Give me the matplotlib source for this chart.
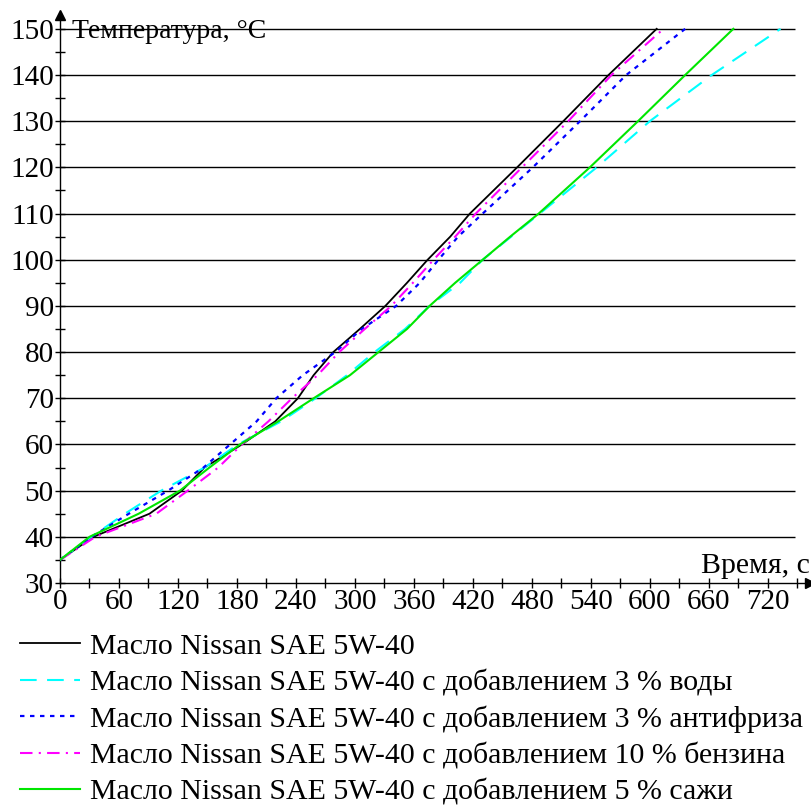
import matplotlib
matplotlib.use("Agg")
import matplotlib.pyplot as plt
from matplotlib.ticker import MultipleLocator


# Температура, при которой снят отсчёт времени, °C
temps = [35, 40, 45, 50, 55, 60, 65, 70, 75, 80, 85, 90, 95, 100, 105, 110, 120, 130, 140, 150]

# Время нагрева до каждой температуры, с
t_base = [0, 34, 91, 124, 147, 185, 219, 242, 258, 278, 305, 331, 353, 374, 397, 417, 465, 512, 558, 607]
t_water = [0, 32, 66, 103, 147, 181, 225, 260, 292, 320, 351, 376, 407, 430, 459, 488, 546, 600, 663, 733]
t_antifreeze = [0, 32, 70, 110, 146, 173, 200, 220, 247, 280, 307, 342, 366, 385, 405, 430, 481, 529, 576, 636]
t_petrol = [0, 36, 98, 130, 161, 185, 212, 236, 262, 284, 310, 337, 359, 380, 402, 423, 470, 517, 561, 614]
t_soot = [0, 30, 80, 122, 152, 183, 222, 258, 295, 324, 353, 376, 402, 430, 458, 487, 539, 588, 636, 685]

labels = [
    "Масло Nissan SAE 5W-40",
    "Масло Nissan SAE 5W-40 с добавлением 3 % воды",
    "Масло Nissan SAE 5W-40 с добавлением 3 % антифриза",
    "Масло Nissan SAE 5W-40 с добавлением 10 % бензина",
    "Масло Nissan SAE 5W-40 с добавлением 5 % сажи",
]

x_ticks = list(range(0, 721, 60))
y_ticks = list(range(30, 151, 10))
grid_levels = list(range(40, 151, 10))

plt.rcParams["font.family"] = ["Liberation Serif", "DejaVu Serif"]
FS = 21.5

W, H = 811, 805
fig = plt.figure(figsize=(W / 100, H / 100), dpi=100)

# оси: слева 60 px, снизу 583 px, стрелки до 810 px и 15 px
ax = fig.add_axes([60 / W, (H - 583) / H, 750 / W, 568 / H])
ax.set_xlim(0, 763)
ax.set_ylim(30, 153)

ax.hlines(grid_levels, 0, 748, colors="black", linewidth=1.0, zorder=1)

styles = [
    dict(color="black", linestyle="-", linewidth=1.3),
    dict(color="#00ffff", linestyle=(0, (8, 5)), linewidth=1.5),
    dict(color="#0000ff", linestyle=(0, (2, 2.5)), linewidth=1.6),
    dict(color="#ff00ff", linestyle=(0, (6, 3, 1, 3)), linewidth=1.5),
    dict(color="#00e600", linestyle="-", linewidth=1.5),
]
series = [t_base, t_water, t_antifreeze, t_petrol, t_soot]

handles = []
for t, st, lab in zip(series, styles, labels):
    (ln,) = ax.plot(t, temps, label=lab, zorder=3, **st)
    handles.append(ln)

for side in ("top", "right"):
    ax.spines[side].set_visible(False)
for side in ("left", "bottom"):
    ax.spines[side].set_linewidth(1.0)

# стрелки на концах осей
ax.plot(1, 0, ">k", markersize=7, transform=ax.transAxes, clip_on=False)
ax.plot(0, 1, "^k", markersize=7, transform=ax.transAxes, clip_on=False)

ax.set_xticks(x_ticks)
ax.xaxis.set_minor_locator(MultipleLocator(30))
ax.set_yticks(y_ticks)
ax.yaxis.set_minor_locator(MultipleLocator(5))
ax.tick_params(which="both", direction="inout", length=7, width=1.0)
ax.tick_params(axis="both", labelsize=21, pad=1)

ax.text(12, 150, "Температура, °C", fontsize=20, ha="left", va="center_baseline")
ax.text(763, 34.3, "Время, с", fontsize=FS, ha="right", va="center_baseline")

fig.legend(
    handles=handles,
    loc="upper left",
    bbox_to_anchor=(20 / W, (H - 633) / H),
    frameon=False,
    fontsize=FS,
    handlelength=2.0,
    handletextpad=0.33,
    labelspacing=0.31,
    borderpad=0,
    borderaxespad=0,
)

fig.savefig("out.png", dpi=100)
